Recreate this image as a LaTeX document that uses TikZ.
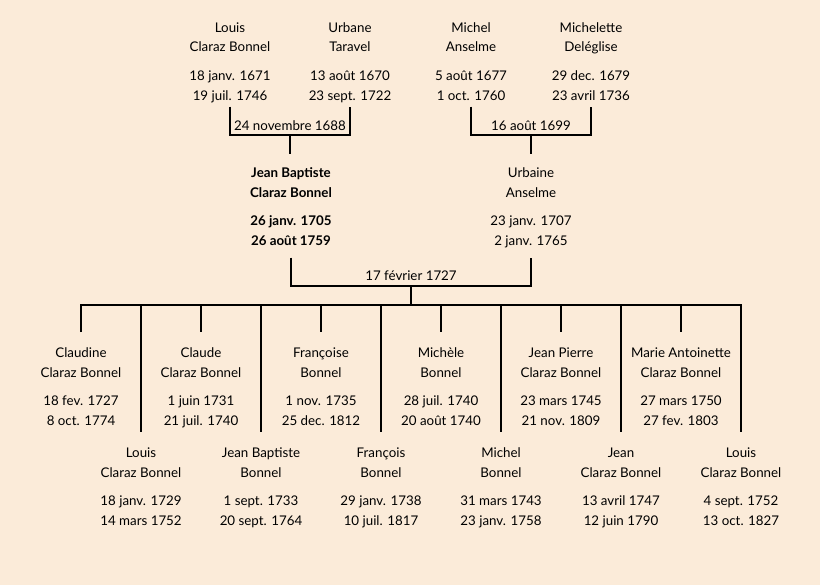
\documentclass[tikz,border=0pt]{standalone}
\usepackage{fontspec}
\setmainfont{Lato}
\usepackage{tikz}
\usetikzlibrary{positioning}
\definecolor{fond}{RGB}{251,235,217}
\newcommand{\pers}[4]{\strut #1\\#2\\[6pt]#3\\#4\strut}

\begin{document}
\begin{tikzpicture}[x=0.75pt, y=-0.75pt, inner sep=0pt, font=\fontsize{10}{15}\selectfont]
    \tikzstyle{per}=[align=center, text=black]
    \tikzstyle{perb}=[per, font=\fontsize{10}{15}\selectfont\bfseries]
    \tikzstyle{lien}=[draw=black, line width=1.5pt]
    \tikzstyle{date}=[anchor=base, text=black]

    \fill[fond] (0,0) rectangle (820,585);

    % grands-parents
    \node[per] (G1) at (230,62) {\pers{Louis}{Claraz Bonnel}{18 janv. 1671}{19 juil. 1746}};
    \node[per] (G2) at (350,62) {\pers{Urbane}{Taravel}{13 août 1670}{23 sept. 1722}};
    \node[per] (G3) at (471,62) {\pers{Michel}{Anselme}{5 août 1677}{1 oct. 1760}};
    \node[per] (G4) at (591,62) {\pers{Michelette}{Deléglise}{29 dec. 1679}{23 avril 1736}};

    % parents
    \node[perb] (P1) at (291,207) {\pers{Jean Baptiste}{Claraz Bonnel}{26 janv. 1705}{26 août 1759}};
    \node[per] (P2) at (531,207) {\pers{Urbaine}{Anselme}{23 janv. 1707}{2 janv. 1765}};

    % enfants
    \node[per] (C1) at (81,387) {\pers{Claudine}{Claraz Bonnel}{18 fev. 1727}{8 oct. 1774}};
    \node[per] (C2) at (141,487) {\pers{Louis}{Claraz Bonnel}{18 janv. 1729}{14 mars 1752}};
    \node[per] (C3) at (201,387) {\pers{Claude}{Claraz Bonnel}{1 juin 1731}{21 juil. 1740}};
    \node[per] (C4) at (261,487) {\pers{Jean Baptiste}{Bonnel}{1 sept. 1733}{20 sept. 1764}};
    \node[per] (C5) at (321,387) {\pers{Françoise}{Bonnel}{1 nov. 1735}{25 dec. 1812}};
    \node[per] (C6) at (381,487) {\pers{François}{Bonnel}{29 janv. 1738}{10 juil. 1817}};
    \node[per] (C7) at (441,387) {\pers{Michèle}{Bonnel}{28 juil. 1740}{20 août 1740}};
    \node[per] (C8) at (501,487) {\pers{Michel}{Bonnel}{31 mars 1743}{23 janv. 1758}};
    \node[per] (C9) at (561,387) {\pers{Jean Pierre}{Claraz Bonnel}{23 mars 1745}{21 nov. 1809}};
    \node[per] (C10) at (621,487) {\pers{Jean}{Claraz Bonnel}{13 avril 1747}{12 juin 1790}};
    \node[per] (C11) at (681,387) {\pers{Marie Antoinette}{Claraz Bonnel}{27 mars 1750}{27 fev. 1803}};
    \node[per] (C12) at (741,487) {\pers{Louis}{Claraz Bonnel}{4 sept. 1752}{13 oct. 1827}};

    \coordinate (m1) at (290,135);
    \coordinate (m2) at (531,135);
    \coordinate (m3) at (411,286);
    \coordinate (bar) at (411,305);

    % les mariages...
    \node[date] (D1) at (290,130.5) {24 novembre 1688};
    \node[date] (D2) at (531,130.5) {16 août 1699};
    \node[date] (D3) at (411,280.5) {17 février 1727};

    \draw[lien, shorten <=0.3pt, shorten >=0.3pt] (G1.south) |- (m1) -| (G2.south);
    \draw[lien, shorten <=0.3pt, shorten >=0.3pt] (G3.south) |- (m2) -| (G4.south);
    \draw[lien, shorten >=6.5pt] (m1) -- (m1 |- P1.north);
    \draw[lien, shorten >=6.5pt] (m2) -- (P2.north);
    \draw[lien, shorten <=4.8pt, shorten >=4.8pt] (P1.south) |- (m3) -| (P2.south);
    \draw[lien] (m3) -- (bar);

    \draw[lien, shorten <=8pt, shorten >=8pt] (C1.north) |- (bar) -| (C12.north);
    \draw[lien, shorten >=8pt] (C2 |- bar) -- (C2.north);
    \draw[lien, shorten >=8pt] (C3 |- bar) -- (C3.north);
    \draw[lien, shorten >=8pt] (C4 |- bar) -- (C4.north);
    \draw[lien, shorten >=8pt] (C5 |- bar) -- (C5.north);
    \draw[lien, shorten >=8pt] (C6 |- bar) -- (C6.north);
    \draw[lien, shorten >=8pt] (C7 |- bar) -- (C7.north);
    \draw[lien, shorten >=8pt] (C8 |- bar) -- (C8.north);
    \draw[lien, shorten >=8pt] (C9 |- bar) -- (C9.north);
    \draw[lien, shorten >=8pt] (C10 |- bar) -- (C10.north);
    \draw[lien, shorten >=8pt] (C11 |- bar) -- (C11.north);
\end{tikzpicture}
\end{document}
